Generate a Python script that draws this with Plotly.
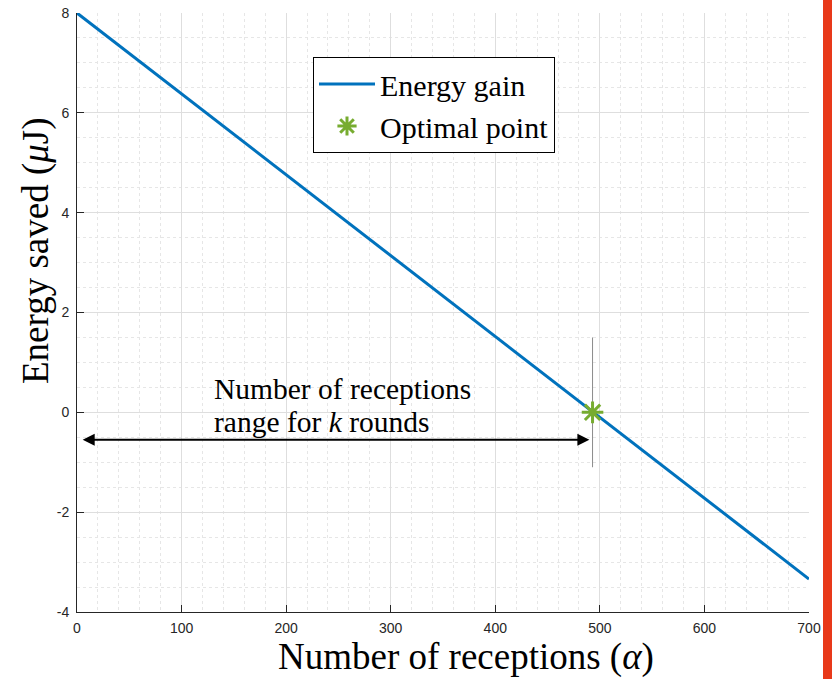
import plotly.graph_objects as go

# ---- data ----
receptions = [0, 700]                 # x of the energy-gain line ends
energy_gain = [8.0, -3.34]            # energy saved (uJ) at those x
optimal_x = [493]
optimal_y = [0.0]
marker_line_x = [493, 493]            # thin gray vertical line through optimum
marker_line_y = [1.5, -1.1]
arrow_x = [4, 490]                    # double arrow extent
arrow_y = -0.55
note_x = 129
note_lines = ["Number of receptions", "range for <i>k</i> rounds"]
note_y = [0.46, -0.20]
x_ticks = [0, 100, 200, 300, 400, 500, 600, 700]
y_ticks = [-4, -2, 0, 2, 4, 6, 8]
y_tick_text = ["-4", "-2", "0", "2", "4", "6", "8"]

BLUE = "#0072BD"
GREEN = "#77AC30"
AX = "#262626"
SERIF = "Liberation Serif, Times New Roman, serif"
SANS = "Liberation Sans, Arial, sans-serif"
W, H = 832, 679

fig = go.Figure()

fig.add_trace(go.Scatter(
    x=marker_line_x, y=marker_line_y, mode="lines",
    line=dict(color="#8c8c8c", width=1), showlegend=False, hoverinfo="skip"))

fig.add_trace(go.Scatter(
    x=receptions, y=energy_gain, mode="lines", name="Energy gain",
    line=dict(color=BLUE, width=3)))

fig.add_trace(go.Scatter(
    x=optimal_x, y=optimal_y, mode="markers", name="Optimal point",
    marker=dict(symbol="asterisk-open", size=18, color=GREEN,
                line=dict(color=GREEN, width=3))))

# double-headed arrow
fig.add_annotation(x=arrow_x[1], y=arrow_y, ax=arrow_x[0], ay=arrow_y,
                   xref="x", yref="y", axref="x", ayref="y", text="",
                   showarrow=True, arrowhead=2, startarrowhead=2,
                   arrowside="end+start", arrowsize=1.2, arrowwidth=2,
                   arrowcolor="black")

for txt, yy in zip(note_lines, note_y):
    fig.add_annotation(x=note_x, y=yy, xref="x", yref="y", text=txt,
                       showarrow=False, xanchor="left", yanchor="middle",
                       align="left",
                       font=dict(family=SERIF, size=29.5, color="black"))

# axis titles (paper = whole figure, margins are zero)
fig.add_annotation(x=466 / W, y=0, xref="paper", yref="paper",
                   text="Number of receptions (<i>α</i>)", showarrow=False,
                   xanchor="center", yanchor="bottom", borderpad=0,
                   font=dict(family=SERIF, size=37, color="black"))
fig.add_annotation(x=36 / W, y=1 - 251 / H, xref="paper", yref="paper",
                   text="Energy saved (<i>μ</i>J)", showarrow=False,
                   textangle=-90, xanchor="center", yanchor="middle",
                   font=dict(family=SERIF, size=37, color="black"))

# red strip on the right edge
fig.add_shape(type="rect", xref="paper", yref="paper",
              x0=823 / W, x1=1, y0=0, y1=1,
              fillcolor="#E8391A", line=dict(width=0), layer="above")

fig.update_layout(
    width=W, height=H,
    margin=dict(l=0, r=0, t=0, b=0),
    plot_bgcolor="white", paper_bgcolor="white",
    showlegend=True,
    legend=dict(x=313 / W, y=1 - 57 / H, xanchor="left", yanchor="top",
                bgcolor="white", bordercolor="black", borderwidth=1,
                font=dict(family=SERIF, size=30, color="black"),
                itemwidth=56, tracegroupgap=0),
    xaxis=dict(domain=[77 / W, 809 / W], range=[0, 700], tickvals=x_ticks,
               ticks="inside", ticklen=7, ticklabeloverflow="allow",
               ticklabelstandoff=3,
               tickcolor=AX, showline=True, linecolor=AX, linewidth=1,
               mirror=False, zeroline=False, automargin=False,
               showgrid=True, gridcolor="#dedede", gridwidth=1,
               minor=dict(dtick=20, showgrid=True, gridcolor="#e6e6e6",
                          griddash="dot", ticks=""),
               tickfont=dict(family=SANS, size=14, color=AX)),
    yaxis=dict(domain=[1 - 612 / H, 1 - 13 / H], range=[-4, 8],
               tickvals=y_ticks, ticktext=y_tick_text,
               ticks="inside", ticklen=7, ticklabeloverflow="allow",
               ticklabelstandoff=4,
               tickcolor=AX, showline=True, linecolor=AX, linewidth=1,
               mirror=False, zeroline=False, automargin=False,
               showgrid=True, gridcolor="#dedede", gridwidth=1,
               minor=dict(dtick=0.5, showgrid=True, gridcolor="#e6e6e6",
                          griddash="dot", ticks=""),
               tickfont=dict(family=SANS, size=14, color=AX)),
)

fig.write_html("out.html",
               config={"displayModeBar": False},
               post_script="document.body.style.margin='0';"
                           "document.documentElement.style.overflow='hidden';")
